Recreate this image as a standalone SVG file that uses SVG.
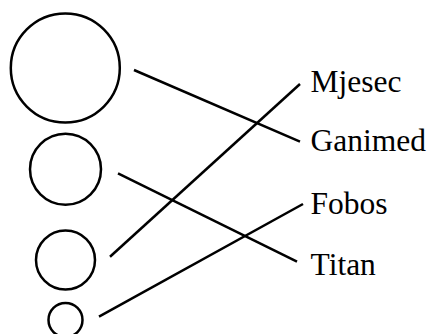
<svg xmlns="http://www.w3.org/2000/svg" width="430" height="334" viewBox="0 0 430 334">
<style>
circle{fill:none;stroke:#000;stroke-width:2.5}
line{stroke:#000;stroke-width:2.5}
text{font-family:"Liberation Serif","Times New Roman",serif;font-size:31.5px;fill:#000}
</style>
<rect width="430" height="334" fill="#fff"/>
<g id="c1"><circle cx="65.3" cy="68" r="54.5"/></g>
<g id="c2"><circle cx="65.5" cy="169.2" r="35.5"/></g>
<g id="c3"><circle cx="65.5" cy="260" r="29.5"/></g>
<g id="c4"><circle cx="65.5" cy="320" r="17"/></g>
<g id="l1"><text x="310.5" y="91.7">Mjesec</text></g>
<g id="l2"><text x="310.5" y="150.7">Ganimed</text></g>
<g id="l3"><text x="310.5" y="214">Fobos</text></g>
<g id="l4"><text x="310.5" y="275">Titan</text></g>
<g id="connectors">
<line x1="134" y1="70" x2="300" y2="141.7"/>
<line x1="118" y1="173.3" x2="297" y2="261.7"/>
<line x1="110" y1="256.7" x2="300" y2="84"/>
<line x1="99" y1="316.7" x2="303" y2="204"/>
</g>
</svg>
